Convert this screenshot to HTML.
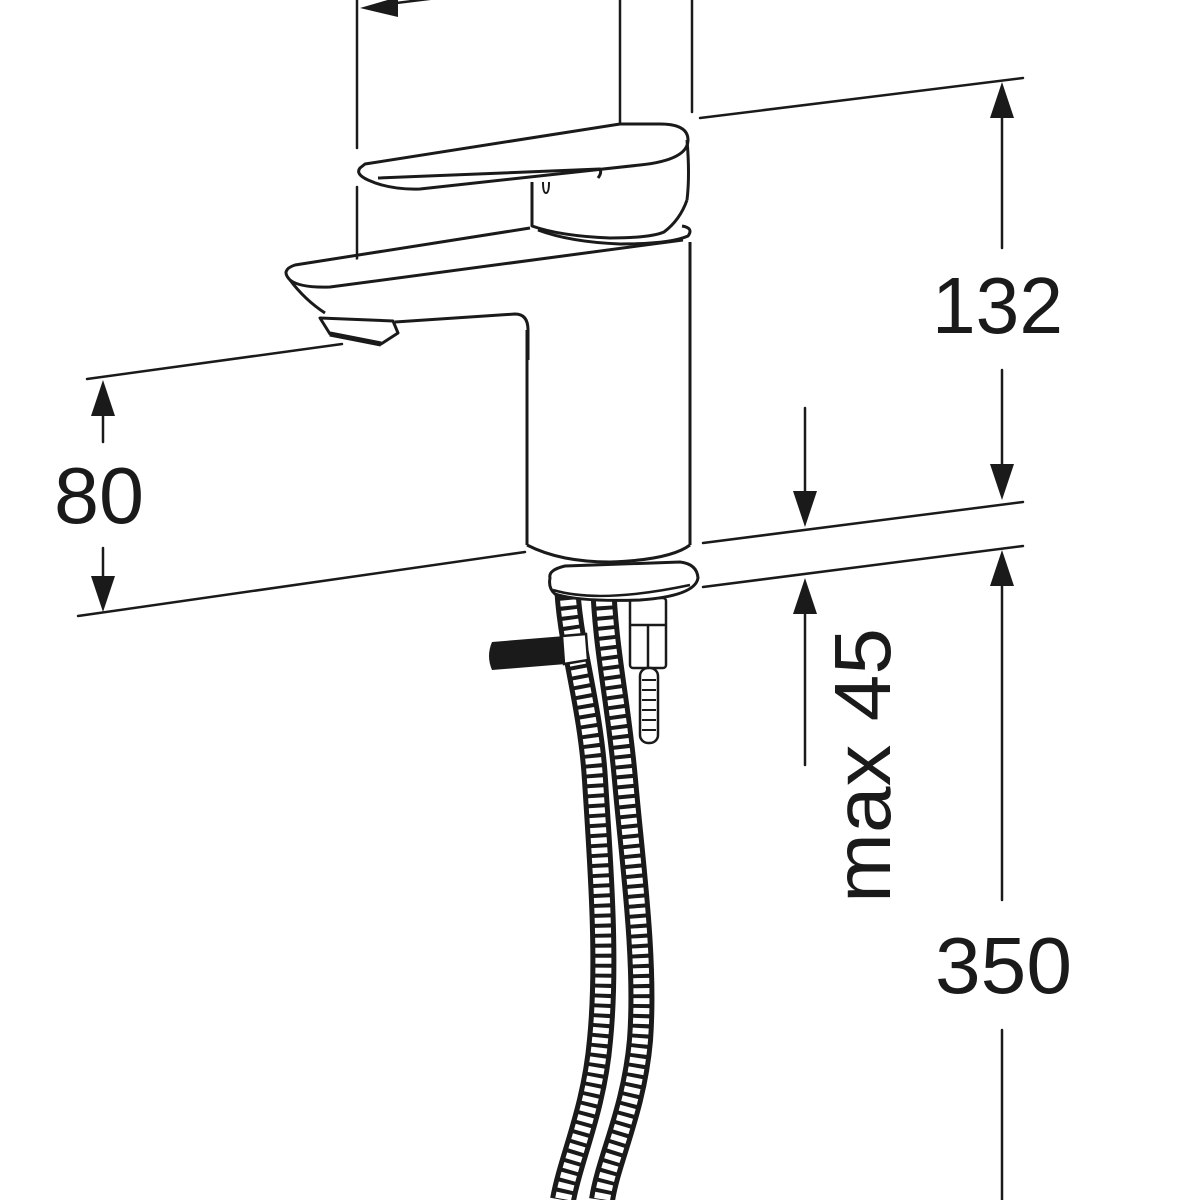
<!DOCTYPE html>
<html><head><meta charset="utf-8"><style>html,body{margin:0;padding:0;background:#fff}svg{display:block}</style></head>
<body>
<svg width="1200" height="1200" viewBox="0 0 1200 1200" xmlns="http://www.w3.org/2000/svg">
<defs>
<marker id="ah" markerWidth="10" markerHeight="10" refX="10" refY="5" orient="auto" markerUnits="userSpaceOnUse"><path d="M0,0 L0,0" /></marker>
</defs>
<g stroke="#1a1a1a" stroke-width="2.5" fill="none" stroke-linecap="round">
<!-- extension lines -->
<line x1="357" y1="0" x2="357" y2="148"/>
<line x1="357" y1="187" x2="357" y2="265"/>
<line x1="620" y1="0" x2="620" y2="145"/>
<line x1="692" y1="0" x2="692" y2="112"/>
<line x1="380" y1="5" x2="600" y2="-22"/>
<line x1="700" y1="118" x2="1023" y2="78"/>
<line x1="703" y1="543" x2="1023" y2="502"/>
<line x1="703" y1="587" x2="1023" y2="546"/>
<line x1="87" y1="379" x2="342" y2="344"/>
<line x1="78" y1="616" x2="525" y2="552"/>
<!-- dim lines -->
<line x1="1002" y1="100" x2="1002" y2="248"/>
<line x1="1002" y1="370" x2="1002" y2="480"/>
<line x1="805" y1="408" x2="805" y2="510"/>
<line x1="805" y1="598" x2="805" y2="765"/>
<line x1="1002" y1="570" x2="1002" y2="900"/>
<line x1="1002" y1="1030" x2="1002" y2="1200"/>
<line x1="103" y1="400" x2="103" y2="442"/>
<line x1="103" y1="548" x2="103" y2="592"/>
</g>
<g fill="#1a1a1a">
<path d="M1002,82 L990,118 L1014,118Z"/>
<path d="M1002,500 L990,464 L1014,464Z"/>
<path d="M805,527 L793,491 L817,491Z"/>
<path d="M805,578 L793,614 L817,614Z"/>
<path d="M1002,550 L990,586 L1014,586Z"/>
<path d="M103,380 L91,416 L115,416Z"/>
<path d="M103,612 L91,576 L115,576Z"/>
<path d="M360,8 L398,-3 L398,17Z"/>
</g>
<g font-family="Liberation Sans, sans-serif" font-size="80" fill="#1a1a1a">
<text x="932" y="333" textLength="131" lengthAdjust="spacingAndGlyphs">132</text>
<text x="54" y="523" textLength="90" lengthAdjust="spacingAndGlyphs">80</text>
<text x="935" y="993" textLength="137" lengthAdjust="spacingAndGlyphs">350</text>
<text transform="translate(890,903) rotate(-90)" textLength="275" lengthAdjust="spacingAndGlyphs">max 45</text>
</g>
<!-- hoses -->
<g fill="none" stroke-linecap="butt">
<path d="M567,580 C568,640 590,700 595,780 C600,860 608,960 600,1040 C594,1110 570,1160 563,1200" stroke="#1a1a1a" stroke-width="26"/>
<path d="M567,580 C568,640 590,700 595,780 C600,860 608,960 600,1040 C594,1110 570,1160 563,1200" stroke="#fff" stroke-width="16" stroke-dasharray="6 4"/>
<path d="M603,580 C605,650 618,700 625,780 C632,860 646,960 640,1040 C634,1110 608,1160 602,1200" stroke="#1a1a1a" stroke-width="26"/>
<path d="M603,580 C605,650 618,700 625,780 C632,860 646,960 640,1040 C634,1110 608,1160 602,1200" stroke="#fff" stroke-width="16" stroke-dasharray="6 4"/>
</g>
<!-- handle bar -->
<path d="M492,642 L565,636 L566,664 L492,670 Q486,656 492,642Z" fill="#1a1a1a"/>
<path d="M562,636 L586,634 L588,660 L564,664Z" fill="#fff" stroke="#1a1a1a" stroke-width="2.5"/>
<!-- fitting -->
<g stroke="#1a1a1a" stroke-width="2.5" fill="#fff">
<rect x="630" y="598" width="36" height="70" rx="3"/>
<line x1="648" y1="625" x2="648" y2="668"/>
<line x1="630" y1="625" x2="666" y2="625"/>
<rect x="640" y="668" width="18" height="75" rx="8"/>
</g>
<g stroke="#1a1a1a" stroke-width="2" fill="none">
<line x1="642" y1="680" x2="656" y2="680"/><line x1="642" y1="690" x2="656" y2="690"/><line x1="642" y1="700" x2="656" y2="700"/><line x1="642" y1="710" x2="656" y2="710"/><line x1="642" y1="720" x2="656" y2="720"/><line x1="642" y1="730" x2="656" y2="730"/>
</g>
<!-- base plate -->
<path d="M550,578 Q548,570 565,566 L680,562 Q697,564 698,578 Q695,596 640,600 Q580,602 555,594 Q548,588 550,578Z" fill="#fff" stroke="#1a1a1a" stroke-width="3"/>
<path d="M553,590 Q600,604 690,585" fill="none" stroke="#1a1a1a" stroke-width="2.5"/>
<!-- body -->
<g stroke="#1a1a1a" stroke-width="3" fill="#fff" stroke-linejoin="round">
<path d="M527,345 L527,545 Q560,562 610,562 Q670,560 690,545 L690,240 Q686,230 680,232 L540,232 L300,268 L527,330Z" stroke="none"/>
<line x1="527" y1="330" x2="527" y2="545"/>
<line x1="690" y1="242" x2="690" y2="545"/>
<path d="M527,545 Q560,562 610,562 Q670,560 690,545" fill="none"/>
<!-- spout -->
<path d="M530,228 L295,265 Q280,270 290,280 Q300,288 330,287 L683,240" fill="none"/>
<path d="M290,280 Q305,300 325,313" fill="none"/>
<path d="M395,322 L515,314 Q528,314 528,330 L528,360" fill="none"/>
<path d="M320,318 L393,321 L398,333 L381,344 L330,334 Z" fill="#fff"/>
<line x1="330" y1="334" x2="381" y2="344" stroke-width="5"/>
<!-- collar -->
<path d="M538,230 Q570,242 620,244 Q670,244 688,236 Q694,228 682,226" fill="none"/>
<!-- lever block -->
<path d="M532,182 L532,226 Q560,236 610,238 Q650,238 664,232 Q680,220 687,200" fill="#fff"/>
<!-- lever -->
<path d="M360,168 Q355,174 368,180 Q390,190 420,189 L640,165 Q688,160 688,140 Q688,124 660,124 L620,124 L365,164 Z" fill="#fff"/>
<path d="M687,140 Q690,175 687,200" fill="none"/>
<path d="M378,178 L600,169 Q602,173 598,178" fill="none"/>
<path d="M543,182 Q543,193 546,193 Q549,193 549,182" fill="none" stroke-width="2"/>
</g>
</svg>
</body></html>
